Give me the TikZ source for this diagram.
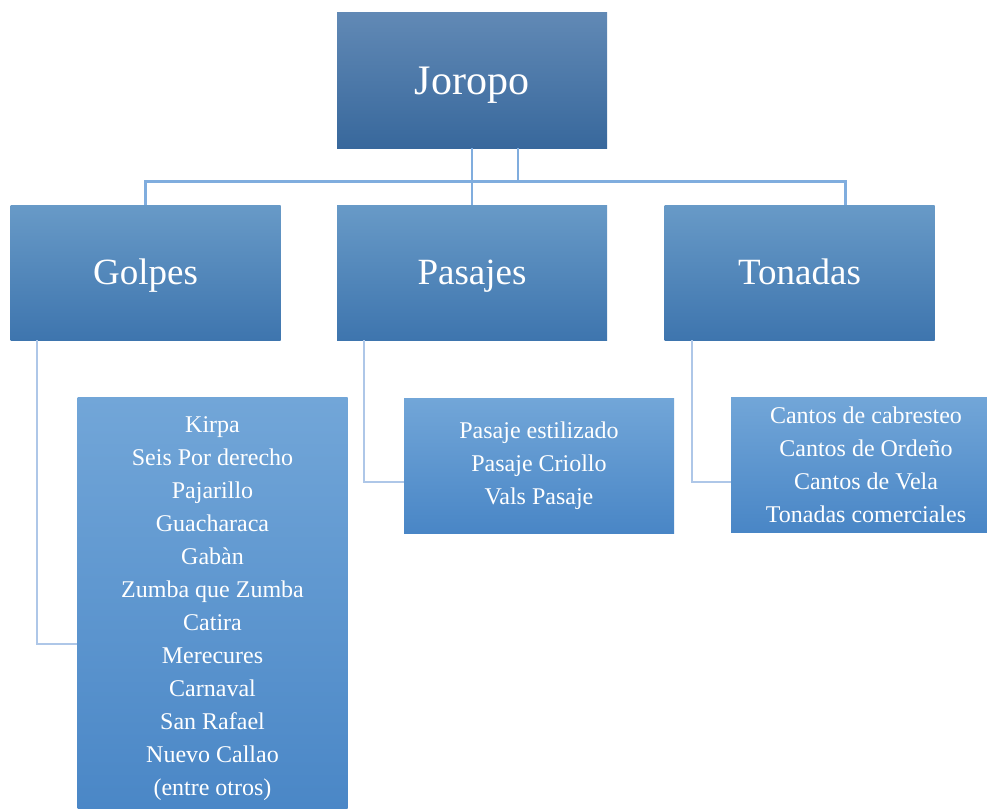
\documentclass[tikz,border=0pt]{standalone}
\usepackage{fontspec}
\setmainfont{Liberation Serif}
\usepackage{tikz}

\definecolor{roottop}{RGB}{97,137,181}
\definecolor{rootbot}{RGB}{56,104,156}
\definecolor{cattop}{RGB}{104,154,199}
\definecolor{catbot}{RGB}{62,117,174}
\definecolor{listtop}{RGB}{114,166,216}
\definecolor{listmid}{RGB}{89,155,214}
\definecolor{listbot}{RGB}{73,134,198}
\definecolor{busline}{RGB}{128,173,222}
\definecolor{sideline}{RGB}{174,199,232}

\begin{document}
\begin{tikzpicture}[x = 1pt, y = -1pt,
                        root/.style = {rectangle, minimum width = 270pt, minimum height = 135pt, inner sep = 0pt,
                                       top color = roottop, bottom color = rootbot, text = white,
                                       text height = 27.7pt, text depth = 0pt,
                                       font = \fontsize{42}{48}\selectfont},
                        cat/.style = {rectangle, minimum width = 270pt, minimum height = 135pt, inner sep = 0pt,
                                      top color = cattop, bottom color = catbot, text = white,
                                      text height = 24.4pt, text depth = 0pt,
                                      font = \fontsize{37}{42}\selectfont},
                        list/.style = {rectangle, minimum width = 270pt, minimum height = 135pt, inner sep = 0pt,
                                       top color = listtop, middle color = listmid, bottom color = listbot,
                                       text = white, align = center, font = \fontsize{24}{33}\selectfont},
                        bus/.style = {draw = busline, line width = 2.5pt},
                        side/.style = {draw = sideline, line width = 2.5pt}]
      \useasboundingbox (0, 0) rectangle (987, 808);

      \node [root] (joropo) at (472, 80.5){Joropo};

      \node [cat] (golpes) at (145.5, 272.5){Golpes};
      \node [cat] (pasajes) at (472, 272.5){Pasajes};
      \node [cat] (tonadas) at (799.5, 272.5){Tonadas};

      \node [list, minimum height = 424pt] (golpeslist) at (212.5, 609){Kirpa\\Seis Por derecho\\Pajarillo\\Guacharaca\\Gabàn\\Zumba que Zumba\\Catira\\Merecures\\Carnaval\\San Rafael\\Nuevo Callao\\(entre otros)};
      \node [list] (pasajeslist) at (539, 465.5){Pasaje estilizado\\Pasaje Criollo\\Vals Pasaje};
      \node [list] (tonadaslist) at (866, 464.5){Cantos de cabresteo\\Cantos de Ordeño\\Cantos de Vela\\Tonadas comerciales};

      \coordinate (hub) at (518, 181.3);
      \coordinate (tonadasin) at (845.7, 205);

      \draw [bus] ([xshift = 46pt]joropo.south) -- (hub);
      \draw [bus] (hub) -| (golpes.north);
      \draw [bus] (hub) -| (tonadasin);
      \draw [bus] (joropo.south) -- (pasajes.north);

      \draw [side] ([xshift = -108.5pt]golpes.south) |- ([yshift = -35pt]golpeslist.west);
      \draw [side] ([xshift = -108pt]pasajes.south) |- ([yshift = -16.5pt]pasajeslist.west);
      \draw [side] ([xshift = -107.5pt]tonadas.south) |- ([yshift = -17.5pt]tonadaslist.west);
      \end{tikzpicture}
\end{document}
